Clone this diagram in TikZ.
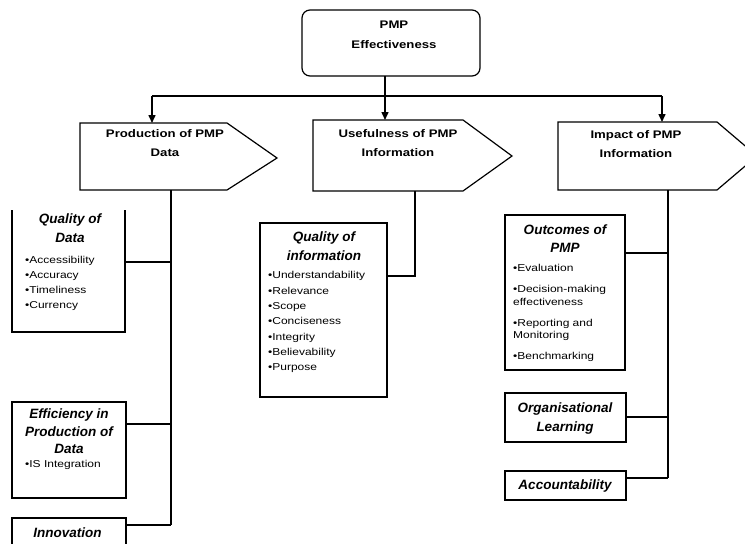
\documentclass[tikz,border=0pt]{standalone}
\usepackage{fontspec}
\setmainfont{Liberation Sans}
\newfontfamily\hdfont[FakeStretch=1.2]{Liberation Sans}
\newfontfamily\lsfont[FakeStretch=1.2]{Liberation Sans}
\usetikzlibrary{arrows.meta,calc}
\begin{document}
\begin{tikzpicture}[x=1pt,y=-1pt,
  hd/.style={font=\hdfont\bfseries\fontsize{11}{19}\selectfont, align=center, inner sep=0, anchor=north},
  sub/.style={font=\bfseries\itshape\fontsize{13.5}{19}\selectfont, align=center, inner sep=0, anchor=north},
  lst/.style={font=\lsfont\fontsize{10}{15.2}\selectfont, align=left, inner sep=0, anchor=north west},
  geo/.style={inner sep=0, outer sep=0},
  bx/.style={draw, line width=1.2pt},
  conn/.style={line width=1.5pt},
  arr/.style={conn, -{Triangle[length=8pt,width=7pt]}}
]
\useasboundingbox (0,0) rectangle (745,544);
\clip (0,0) rectangle (745,544);

% top box
\node[geo, draw, line width=1.2pt, rounded corners=8pt, minimum width=178, minimum height=66] (top) at (391,43) {};
\node[hd, font=\hdfont\bfseries\fontsize{11}{20}\selectfont] (toptxt) at (394,21) {PMP\\Effectiveness};

% header boxes
\node[geo, minimum width=147, minimum height=67] (b1) at (153.5,156.5) {};
\draw[bx] (b1.north west) -- (b1.north east) -- ($(b1.east)+(50,1.5)$) -- (b1.south east) -- (b1.south west) -- cycle;
\node[hd] (b1txt) at (165,129) {Production of PMP\\Data};

\node[geo, minimum width=150, minimum height=71] (b2) at (388,155.5) {};
\draw[bx] (b2.north west) -- (b2.north east) -- ($(b2.east)+(49,0.5)$) -- (b2.south east) -- (b2.south west) -- cycle;
\node[hd] (b2txt) at (398,129) {Usefulness of PMP\\Information};

\node[geo, minimum width=159, minimum height=68] (b3) at (637.5,156) {};
\draw[bx] (b3.north west) -- (b3.north east) -- ($(b3.east)+(40,0)$) -- (b3.south east) -- (b3.south west) -- cycle;
\node[hd] (b3txt) at (636,130) {Impact of PMP\\Information};

% top connectors
\coordinate (j1) at (152,96);
\coordinate (j2) at (385,96);
\coordinate (j3) at (662,96);
\draw[conn] (top.south -| j2) -- (j2);
\draw[conn] (j1) -- (j3);
\draw[arr] (j1) -- (j1 |- b1.north);
\draw[arr] (j2) -- (j2 |- b2.north);
\draw[arr] (j3) -- (j3 |- b3.north);

% column 1
\node[geo, minimum width=113, minimum height=122] (qd) at (68.5,271) {};
\draw[bx] (qd.north west) -- (qd.south west) -- (qd.south east) -- (qd.north east);
\node[sub] (qdh) at (70,214) {Quality of\\Data};
\node[lst, font=\lsfont\fontsize{10}{15}\selectfont] (qdl) at (25,256) {•Accessibility\\•Accuracy\\•Timeliness\\•Currency};

\node[geo, draw, line width=1.2pt, minimum width=114, minimum height=96] (ef) at (69,450) {};
\node[sub, font=\bfseries\itshape\fontsize{13.5}{17.5}\selectfont] (efh) at (69,409) {Efficiency in\\Production of\\Data};
\node[lst] (efl) at (25,460.5) {•IS Integration};

\node[geo, draw, line width=1.2pt, minimum width=114, minimum height=42] (inn) at (69,539) {};
\node[sub, anchor=center] (innh) at (67.5,533) {Innovation};

\coordinate (k1a) at (171,262);
\coordinate (k1b) at (171,424);
\coordinate (k1c) at (171,525);
\draw[conn] (b1.south -| k1a) -- (k1c);
\draw[conn] (qd.east |- k1a) -- (k1a);
\draw[conn] (ef.east |- k1b) -- (k1b);
\draw[conn] (inn.east |- k1c) -- (k1c);

% column 2
\node[geo, draw, line width=1.2pt, minimum width=127, minimum height=174] (qi) at (323.5,310) {};
\node[sub] (qih) at (324,232) {Quality of\\information};
\node[lst, font=\lsfont\fontsize{10}{15.3}\selectfont] (qil) at (268,271.5) {•Understandability\\•Relevance\\•Scope\\•Conciseness\\•Integrity\\•Believability\\•Purpose};
\coordinate (k2) at (415,276);
\draw[conn] (b2.south -| k2) -- (k2) -- (qi.east |- k2);

% column 3
\node[geo, draw, line width=1.2pt, minimum width=120, minimum height=155] (oc) at (565,292.5) {};
\node[sub, font=\bfseries\itshape\fontsize{13.5}{18}\selectfont] (och) at (565,225) {Outcomes of\\PMP};
\node[lst, font=\lsfont\fontsize{10}{12.5}\selectfont] (ocl) at (513,264.5) {•Evaluation\\[8.5pt]•Decision-making\\effectiveness\\[8.5pt]•Reporting and\\Monitoring\\[8.5pt]•Benchmarking};

\node[geo, draw, line width=1.2pt, minimum width=121, minimum height=49] (ol) at (565.5,417.5) {};
\node[sub] (olh) at (565,403) {Organisational\\Learning};

\node[geo, draw, line width=1.2pt, minimum width=121, minimum height=29] (ac) at (565.5,485.5) {};
\node[sub, anchor=center] (ach) at (565,486) {Accountability};

\coordinate (k3a) at (668,253);
\coordinate (k3b) at (668,417);
\coordinate (k3c) at (668,478);
\draw[conn] (b3.south -| k3a) -- (k3c);
\draw[conn] (oc.east |- k3a) -- (k3a);
\draw[conn] (ol.east |- k3b) -- (k3b);
\draw[conn] (ac.east |- k3c) -- (k3c);
\end{tikzpicture}
\end{document}
